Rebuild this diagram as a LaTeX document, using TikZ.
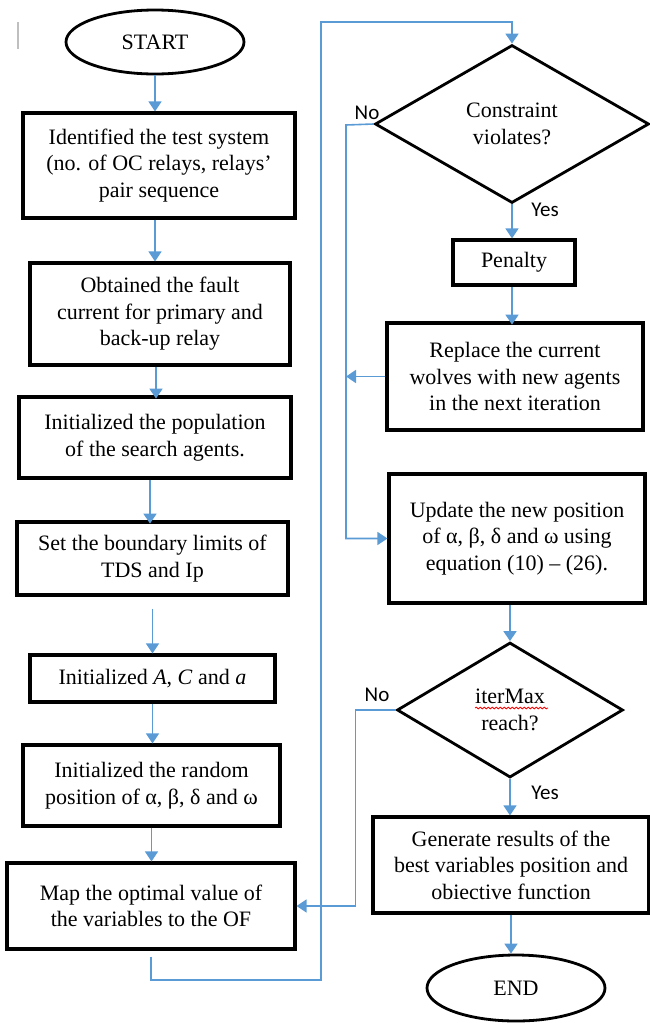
\documentclass[tikz,border=0pt]{standalone}
\usepackage{fontspec}
\setmainfont{Liberation Serif}
\newfontfamily\yesnofont{Carlito}
\usetikzlibrary{shapes.geometric,arrows.meta,decorations.pathmorphing}
\definecolor{flowblue}{RGB}{91,155,213}
\begin{document}
\begin{tikzpicture}[x=1pt,y=-1pt,
      box/.style={draw,line width=3.2pt,align=center,inner sep=0pt},
      term/.style={draw,ellipse,line width=2.8pt,inner sep=0pt},
      decide/.style={draw,diamond,line width=2.8pt,align=center,inner sep=0pt},
      flow/.style={flowblue,line width=1.6pt},
      arr/.style={flow,-{Triangle[width=13pt,length=10pt]}},
      yesno/.style={font=\yesnofont\fontsize{21}{24}\selectfont}]
      \fontsize{22}{26.5}\selectfont
      \useasboundingbox (0,0) rectangle (650,1023);
      \draw [gray!50,line width=1.2pt] (18,22) -- (18,49);
      % left column
      \node[term,minimum width=178pt,minimum height=64pt] (start) at (155,42) {START};
      \node[box,minimum width=272pt,minimum height=105pt] (b1) at (159,165.5) {Identified the test system\\(no. of OC relays, relays’\\pair sequence};
      \node[box,minimum width=260pt,minimum height=102pt] (b2) at (160,314) {Obtained the fault\\current for primary and\\back-up relay};
      \node[box,minimum width=272pt,minimum height=81pt] (b3) at (155,437.5) {Initialized the population\\of the search agents.};
      \node[box,minimum width=271pt,minimum height=73pt] (b4) at (152.5,558.5) {Set the boundary limits of\\TDS and Ip};
      \node[box,minimum width=245pt,minimum height=47pt] (b5) at (152.5,678.5) {Initialized \textit{A}, \textit{C} and \textit{a}};
      \node[box,minimum width=257pt,minimum height=81pt] (b6) at (151.5,785.5) {Initialized the random\\position of α, β, δ and ω};
      \node[box,minimum width=288pt,minimum height=86pt] (b7) at (151,906) {Map the optimal value of\\the variables to the OF};
      % right column
      \node[decide,minimum width=274pt,minimum height=158pt] (d1) at (512,124) {Constraint\\violates?};
      \node[box,minimum width=122pt,minimum height=45pt] (pen) at (514,262.5) {Penalty};
      \node[box,minimum width=256pt,minimum height=107pt] (b8) at (515,376.5) {Replace the current\\wolves with new agents\\in the next iteration};
      \node[box,minimum width=256pt,minimum height=129pt] (b9) at (517,538.5) {Update the new position\\of α, β, δ and ω using\\equation (10) – (26).};
      \node[decide,minimum width=226pt,minimum height=135pt] (d2) at (510,710) {iterMax\\reach?};
      \node[box,minimum width=276pt,minimum height=96pt] (b10) at (511,865) {Generate results of the\\best variables position and\\obiective function};
      \node[term,minimum width=178pt,minimum height=66pt] (end) at (516,988) {END};
      \draw [red,line width=0.8pt,decorate,decoration={snake,amplitude=0.9pt,segment length=4pt}] (475,708) -- (548,708);
      % labels
      \node[yesno] (no1) at (367,113) {No};
      \node[yesno] (yes1) at (545,210) {Yes};
      \node[yesno] (no2) at (377,695) {No};
      \node[yesno] (yes2) at (545,793) {Yes};
      % connectors
      \coordinate (loopb) at (321,980);
      \coordinate (loopt) at (321,22);
      \coordinate (noline) at (346,125);
      \draw [arr] (start.south) -- (start.south |- b1.north);
      \draw [arr] (b1.south -| start.south) -- (start.south |- b2.north);
      \draw [arr] (b2.south) ++(-4,0) -- ++(0,32);
      \draw [arr] (b3.south) ++(-5,0) -- ++(0,44);
      \draw [arr] ([yshift=-12pt]b4.south) -- (b4.south |- b5.north);
      \draw [arr] (b5.south) -- (b5.south |- b6.north);
      \draw [arr] (b6.south) -- (b6.south |- b7.north);
      \draw [arr] ([yshift=-6pt]b7.south) |- (loopb) -- (loopt) -| (d1.north);
      \draw [arr] (d1.south) -- (pen.north -| d1.south);
      \draw [arr] (pen.south) ++(-2,0) -- ++(0,38);
      \draw [arr] (d1.west) -- (noline) |- (b9.west);
      \draw [arr] (b8.west) -- (b8.west -| noline);
      \draw [arr] (b9.south -| d2.north) -- (d2.north);
      \draw [arr] (d2.west) -- ++(-40,0) |- (b7.east);
      \draw [arr] (d2.south) -- (d2.south |- b10.north);
      \draw [arr] (b10.south) -- (b10.south |- end.north);
\end{tikzpicture}
\end{document}
